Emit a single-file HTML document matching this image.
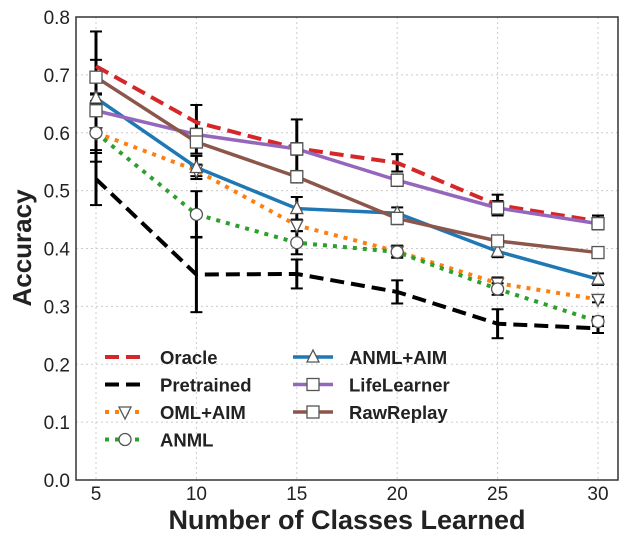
<!DOCTYPE html>
<html><head><meta charset="utf-8"><style>
body{margin:0;background:#fff;font-family:"Liberation Sans",sans-serif}
</style></head><body>
<svg id="c" width="628" height="544" xmlns="http://www.w3.org/2000/svg" font-family="Liberation Sans, sans-serif"></svg>
<script>
const xCats=[5,10,15,20,25,30];
const yTicks=[0,0.1,0.2,0.3,0.4,0.5,0.6,0.7,0.8];
const oracle=[0.715,0.618,0.573,0.548,0.475,0.447];
const pretrained=[0.52,0.355,0.356,0.325,0.27,0.262];
const omlAim=[0.60,0.535,0.44,0.395,0.34,0.312];
const anml=[0.60,0.459,0.41,0.394,0.33,0.274];
const anmlAim=[0.66,0.54,0.469,0.461,0.395,0.347];
const lifeLearner=[0.638,0.597,0.572,0.518,0.47,0.443];
const rawReplay=[0.696,0.584,0.524,0.452,0.413,0.393];
const oracleErr=[0.06,0.03,0.05,0.015,0.018,0.01];
const pretrainedErr=[0.045,0.065,0.025,0.02,0.025,0.008];
const omlAimErr=[0.03,0.01,0.01,0.01,0.01,0.005];
const anmlErr=[0.05,0.04,0.02,0.01,0.01,0.008];
const anmlAimErr=[0.03,0.02,0.02,0.01,0.01,0.01];
const lifeLearnerErr=[0.03,0.01,0.01,0.01,0.012,0.01];
const rawReplayErr=[0.03,0.02,0.01,0.01,0.008,0.008];
const L=76,R=618,T=17,B=480;
const X=v=>96+(v-5)*(598-96)/25;
const Y=v=>B-v*(B-T)/0.8;
const svg=document.getElementById('c');
const NS='http://www.w3.org/2000/svg';
function mk(t,a,p){const e=document.createElementNS(NS,t);for(const k in a)e.setAttribute(k,a[k]);(p||svg).appendChild(e);return e;}
yTicks.forEach(v=>{const l=mk('line',{x1:L,x2:R,y1:Y(v),y2:Y(v),stroke:'#ccc','stroke-dasharray':'2,3','stroke-width':1});


const t=mk('text',{x:L-6,y:Y(v)+7,'text-anchor':'end','font-size':19,fill:'#222'});t.textContent=v.toFixed(1);

});
xCats.forEach(v=>{const l=mk('line',{x1:X(v),x2:X(v),y1:T,y2:B,stroke:'#ccc','stroke-dasharray':'2,3','stroke-width':1});


const t=mk('text',{x:X(v),y:B+20,'text-anchor':'middle','font-size':19,fill:'#222'});t.textContent=v;

});
const series=[
{n:'Oracle',d:oracle,e:oracleErr,c:'#d62728',dash:'14,7',m:null,w:4},
{n:'Pretrained',d:pretrained,e:pretrainedErr,c:'#000',dash:'14,7',m:null,w:4},
{n:'OML+AIM',d:omlAim,e:omlAimErr,c:'#ff7f0e',dash:'4,6',m:'tri-down',w:4},
{n:'ANML',d:anml,e:anmlErr,c:'#2ca02c',dash:'4,6',m:'circle',w:4},
{n:'ANML+AIM',d:anmlAim,e:anmlAimErr,c:'#1f77b4',dash:null,m:'tri-up',w:3.5},
{n:'LifeLearner',d:lifeLearner,e:lifeLearnerErr,c:'#9467bd',dash:null,m:'square',w:3.5},
{n:'RawReplay',d:rawReplay,e:rawReplayErr,c:'#8c564b',dash:null,m:'square',w:3.5}];
function marker(type,x,y,g){const a={fill:'#fff',stroke:'#555','stroke-width':1.3};
if(type==='square')return mk('rect',Object.assign({x:x-6,y:y-6,width:12,height:12},a),g);
if(type==='circle')return mk('circle',Object.assign({cx:x,cy:y,r:6},a),g);
if(type==='tri-up')return mk('polygon',Object.assign({points:`${x},${y-7} ${x-6},${y+5} ${x+6},${y+5}`},a),g);
if(type==='tri-down')return mk('polygon',Object.assign({points:`${x},${y+7} ${x-6},${y-5} ${x+6},${y-5}`},a),g);}
series.forEach(s=>{s.d.forEach((v,i)=>{const x=X(xCats[i]);const g=mk('g',{});


mk('line',{x1:x,x2:x,y1:Y(v-s.e[i]),y2:Y(v+s.e[i]),stroke:'#000','stroke-width':3},g);
[v-s.e[i],v+s.e[i]].forEach(q=>mk('line',{x1:x-6,x2:x+6,y1:Y(q),y2:Y(q),stroke:'#000','stroke-width':2},g));});});
series.forEach(s=>{const g=mk('g',{});


const a={points:s.d.map((v,i)=>X(xCats[i])+','+Y(v)).join(' '),fill:'none',stroke:s.c,'stroke-width':s.w};
if(s.dash)a['stroke-dasharray']=s.dash;mk('polyline',a,g);
if(s.m)s.d.forEach((v,i)=>marker(s.m,X(xCats[i]),Y(v),g));});
mk('rect',{x:L,y:T,width:R-L,height:B-T,fill:'none',stroke:'#333','stroke-width':1.5});
const lg=mk('g',{});


series.forEach((s,i)=>{const col=i<4?0:1,row=i<4?i:i-4;const x0=col?293:105,y=357+row*27.5;
const e=mk('g',{},lg);


const a={x1:x0,x2:x0+40,y1:y,y2:y,stroke:s.c,'stroke-width':s.w};if(s.dash)a['stroke-dasharray']=s.dash;mk('line',a,e);
if(s.m)marker(s.m,x0+20,y,e);
const t=mk('text',{x:col?349:160,y:y+7,'font-size':18.5,'font-weight':'bold',fill:'#222'},e);t.textContent=s.n;});
const yl=mk('text',{x:31,y:248,'text-anchor':'middle','font-size':26,'font-weight':'bold',fill:'#222',transform:'rotate(-90 31 248)'});yl.textContent='Accuracy';


const xl=mk('text',{x:347,y:529,'text-anchor':'middle','font-size':27,'font-weight':'bold',fill:'#222'});xl.textContent='Number of Classes Learned';


</script>
</body></html>
